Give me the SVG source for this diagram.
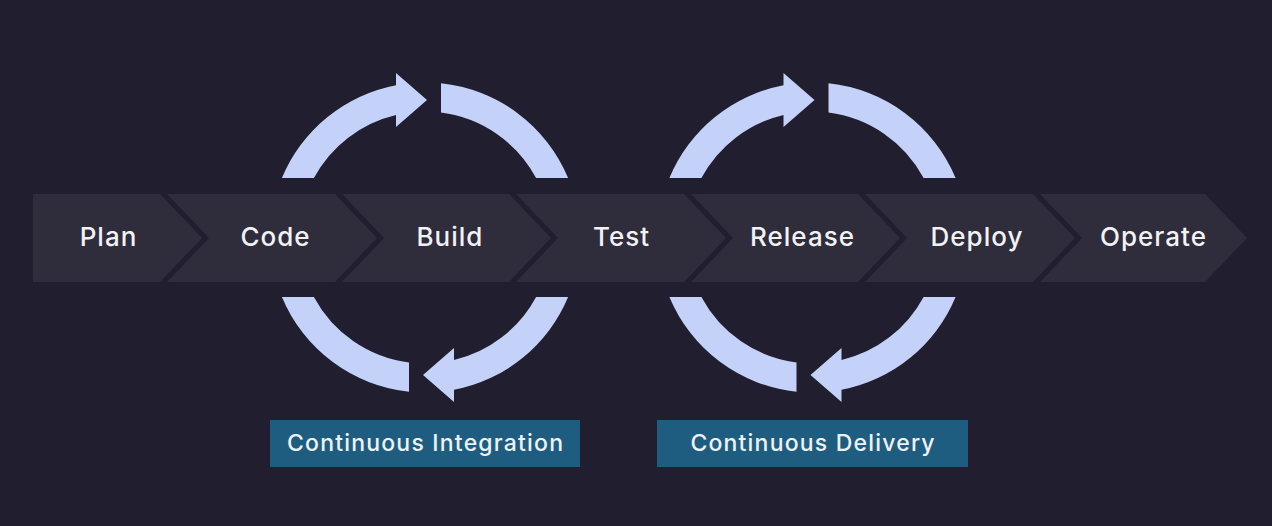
<svg xmlns="http://www.w3.org/2000/svg" xmlns:xlink="http://www.w3.org/1999/xlink" width="1272" height="526" viewBox="0 0 1272 526">
  <style>
    .chev { fill: #2f2c3c; }
    .step { font-family: Inter, "Noto Sans", "Liberation Sans", sans-serif; font-weight: 500; font-size: 26px; letter-spacing: 1px; fill: #f2f2f4; text-anchor: middle; }
    .arc { fill: #c4d2fa; }
    .box { fill: #1e5d80; }
    .lbl { font-family: Inter, "Noto Sans", "Liberation Sans", sans-serif; font-weight: 500; font-size: 23px; letter-spacing: 1.2px; fill: #eef2f6; text-anchor: middle; }
  </style>
  <defs>
    <path id="arcArrow" d="M -143.1,-59.5 A 155 155 0 0 1 -29,-152.3 L -29,-164.5 L 2,-137.5 L -29,-110.5 L -29,-122.6 A 126 126 0 0 0 -111.1,-59.5 Z"/>
    <path id="arcPlain" d="M 16,-154.2 A 155 155 0 0 1 143.1,-59.5 L 111.1,-59.5 A 126 126 0 0 0 16,-125 Z"/>
  </defs>
  <rect width="1272" height="526" fill="#211f2f"/>

  <g id="plan">
    <polygon class="chev" points="33,194 160,194 202,238 160,282 33,282"/>
    <text class="step" x="108.5" y="246">Plan</text>
  </g>
  <g id="code">
    <polygon class="chev" points="167,194 335,194 377,238 335,282 167,282 209,238"/>
    <text class="step" x="275.5" y="246">Code</text>
  </g>
  <g id="build">
    <polygon class="chev" points="342,194 509,194 551,238 509,282 342,282 384,238"/>
    <text class="step" x="450" y="246">Build</text>
  </g>
  <g id="test">
    <polygon class="chev" points="516,194 684,194 726,238 684,282 516,282 558,238"/>
    <text class="step" x="621.5" y="246">Test</text>
  </g>
  <g id="release">
    <polygon class="chev" points="691,194 858,194 900,238 858,282 691,282 733,238"/>
    <text class="step" x="802.5" y="246">Release</text>
  </g>
  <g id="deploy">
    <polygon class="chev" points="865,194 1033,194 1075,238 1033,282 865,282 907,238"/>
    <text class="step" x="977" y="246">Deploy</text>
  </g>
  <g id="operate">
    <polygon class="chev" points="1040,194 1205,194 1247,238 1205,282 1040,282 1082,238"/>
    <text class="step" x="1153.5" y="246">Operate</text>
  </g>

  <g id="connectors">
    <g transform="translate(425,237.5)">
      <use xlink:href="#arcArrow" href="#arcArrow" class="arc"/>
      <use xlink:href="#arcPlain" href="#arcPlain" class="arc"/>
      <use xlink:href="#arcArrow" href="#arcArrow" class="arc" transform="rotate(180)"/>
      <use xlink:href="#arcPlain" href="#arcPlain" class="arc" transform="rotate(180)"/>
    </g>
    <g transform="translate(812.5,237.5)">
      <use xlink:href="#arcArrow" href="#arcArrow" class="arc"/>
      <use xlink:href="#arcPlain" href="#arcPlain" class="arc"/>
      <use xlink:href="#arcArrow" href="#arcArrow" class="arc" transform="rotate(180)"/>
      <use xlink:href="#arcPlain" href="#arcPlain" class="arc" transform="rotate(180)"/>
    </g>
  </g>

  <g id="ci">
    <rect class="box" x="270" y="420" width="310" height="47"/>
    <text class="lbl" x="425.6" y="451">Continuous Integration</text>
  </g>
  <g id="cd">
    <rect class="box" x="657" y="420" width="311" height="47"/>
    <text class="lbl" x="813.1" y="451">Continuous Delivery</text>
  </g>
</svg>
